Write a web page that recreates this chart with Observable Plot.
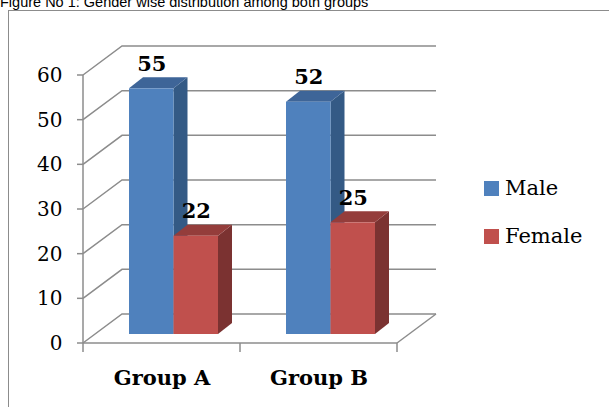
<!DOCTYPE html>
<html>
<head>
<meta charset="utf-8">
<script src="https://cdn.jsdelivr.net/npm/d3@7"></script>
<script src="https://cdn.jsdelivr.net/npm/@observablehq/plot@0.6"></script>
<style>
  html, body { margin: 0; padding: 0; background: #fff; }
  body { width: 609px; height: 407px; overflow: hidden; position: relative; }
  #title { position: absolute; left: 0; top: -6px; line-height: 17px; font-family: "Liberation Sans", Arial, sans-serif; font-size: 14.5px; white-space: nowrap; color: #000; z-index: 3; }
  #frame { position: absolute; left: 8px; top: 10px; width: 800px; height: 600px; border-left: 1px solid #8c8c8c; border-top: 1px solid #8c8c8c; z-index: 2; pointer-events: none; }
  #chart { position: absolute; left: 0; top: 0; z-index: 1; }
  #legend { position: absolute; left: 484px; top: 0; z-index: 3; font-family: "DejaVu Serif", serif; font-size: 21px; color: #000; }
  .item { position: absolute; left: 0; white-space: nowrap; height: 15px; }
  .sw { position: absolute; left: 0; top: 0; width: 15px; height: 15px; }
  .lab { position: absolute; left: 21px; top: -6px; line-height: 26px; }
</style>
</head>
<body>
<div id="title">Figure No 1: Gender wise distribution among both groups</div>
<div id="frame"></div>
<div id="chart"></div>
<div id="legend"></div>
<script>
// ---- data ----
const groups = ["Group A", "Group B"];
const genders = ["Male", "Female"];
const maleValues = [55, 52];
const femaleValues = [22, 25];
const yTicks = [0, 10, 20, 30, 40, 50, 60];

// ---- styles ----
const faceColors = {
  Male:   { front: "#4F81BD", top: "#3E6598", side: "#345A85" },
  Female: { front: "#C0504D", top: "#943D3B", side: "#7B3231" }
};
const gridColor = "#8c8c8c";
const WALL = [39, -29];   // pixel depth of the walls
const BAR0 = [12, -9];    // pixel offset of bar front plane
const BARD = [14, -11];   // pixel depth of each bar

const data = groups.flatMap((g, i) => [
  { group: g, gender: "Male", value: maleValues[i] },
  { group: g, gender: "Female", value: femaleValues[i] }
]);

const W = 609, H = 407;
const mL = 83, mR = 212, mT = 75, mB = 64;
const pInner = 0.433, pOuter = 0.2165;
const step = (W - mL - mR) / (groups.length - pInner + 2 * pOuter);
const bandW = step * (1 - pInner);

function walls(index, scales, values, dim) {
  const { x, y } = scales;
  const x0 = dim.marginLeft, x1 = dim.width - dim.marginRight;
  const [wx, wy] = WALL;
  const g = d3.create("svg:g")
    .attr("fill", "none")
    .attr("stroke", gridColor)
    .attr("stroke-width", 1.5);
  for (const t of yTicks) {
    const yy = y(t);
    g.append("polyline").attr("points", `${x0},${yy} ${x0 + wx},${yy + wy} ${x1 + wx},${yy + wy}`);
    g.append("line").attr("x1", x0 - 6).attr("x2", x0).attr("y1", yy).attr("y2", yy);
  }
  g.append("line").attr("x1", x0).attr("x2", x0).attr("y1", y(0)).attr("y2", y(yTicks[yTicks.length - 1]));
  g.append("line").attr("x1", x0).attr("x2", x1).attr("y1", y(0)).attr("y2", y(0));
  g.append("line").attr("x1", x1).attr("x2", x1 + wx).attr("y1", y(0)).attr("y2", y(0) + wy);
  for (let i = 0; i <= groups.length; i++) {
    const xx = x0 + i * (x1 - x0) / groups.length;
    g.append("line").attr("x1", xx).attr("x2", xx).attr("y1", y(0)).attr("y2", y(0) + 9);
  }
  return g.node();
}

function bars(index, scales, values, dim) {
  const { x, y } = scales;
  let bw = typeof x.bandwidth === "function" ? x.bandwidth() : x.bandwidth;
  if (!bw) bw = bandW;
  const g = d3.create("svg:g");
  const [dx, dy] = BARD;
  for (const d of data) {
    const k = genders.indexOf(d.gender);
    const w = bw / 2;
    const left = x(d.group) + k * w + BAR0[0];
    const right = left + w;
    const base = y(0) + BAR0[1];
    const top = y(d.value) + BAR0[1];
    const c = faceColors[d.gender];
    g.append("polygon").attr("fill", c.side)
      .attr("points", `${right},${top} ${right + dx},${top + dy} ${right + dx},${base + dy} ${right},${base}`);
    g.append("polygon").attr("fill", c.top)
      .attr("points", `${left},${top} ${left + dx},${top + dy} ${right + dx},${top + dy} ${right},${top}`);
    g.append("rect").attr("fill", c.front)
      .attr("x", left).attr("y", top).attr("width", w).attr("height", base - top);
  }
  return g.node();
}

const labelFont = { fontFamily: "DejaVu Serif", fontWeight: "bold", fontSize: 21 };

const chart = Plot.plot({
  width: W, height: H,
  marginLeft: mL, marginRight: mR, marginTop: mT, marginBottom: mB,
  style: { fontFamily: "DejaVu Serif", fontSize: "20px", color: "#000", background: "transparent", overflow: "visible" },
  x: { type: "band", domain: groups, paddingInner: pInner, paddingOuter: pOuter, axis: null },
  y: { domain: [0, 60], ticks: yTicks, tickSize: 0, tickPadding: 21, label: null },
  marks: [
    walls,
    bars,
    Plot.text(data.filter(d => d.gender === "Male"), {
      x: "group", y: "value", text: d => String(d.value),
      dx: BAR0[0] - bandW / 4, dy: BAR0[1] - 25, lineAnchor: "middle", fill: "#000", ...labelFont
    }),
    Plot.text(data.filter(d => d.gender === "Female"), {
      x: "group", y: "value", text: d => String(d.value),
      dx: BAR0[0] + bandW / 4, dy: BAR0[1] - 25, lineAnchor: "middle", fill: "#000", ...labelFont
    }),
    Plot.text(groups, {
      x: d => d, text: d => d, frameAnchor: "bottom", dy: 35, lineAnchor: "middle", fill: "#000", ...labelFont
    })
  ]
});
document.getElementById("chart").appendChild(chart);

// legend
const legend = document.getElementById("legend");
const legendTops = [181, 229];
genders.forEach((gname, i) => {
  const item = document.createElement("div");
  item.className = "item";
  item.style.top = legendTops[i] + "px";
  const sw = document.createElement("div");
  sw.className = "sw";
  sw.style.background = faceColors[gname].front;
  const lab = document.createElement("div");
  lab.className = "lab";
  lab.textContent = gname;
  item.appendChild(sw);
  item.appendChild(lab);
  legend.appendChild(item);
});
</script>
</body>
</html>
